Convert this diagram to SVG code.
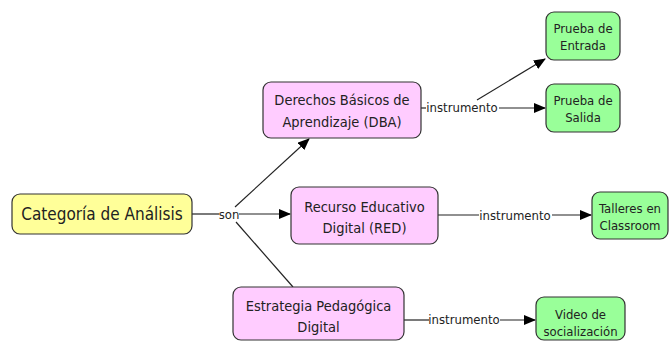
<svg xmlns="http://www.w3.org/2000/svg" width="671" height="341" viewBox="0 0 671 341">
<style>
.n rect{stroke:#333;stroke-width:1.2}
.y rect{fill:#ffff99}
.p rect{fill:#ffccff}
.g rect{fill:#99ff99}
text{font-family:"DejaVu Sans Condensed","DejaVu Sans","Liberation Sans",sans-serif;fill:#222;text-anchor:middle}
.t{font-size:14.5px}
.s{font-size:13px}
.l{font-size:13px}
.c line,.c polyline{stroke:#222;stroke-width:1.2;fill:none}
.c .a{marker-end:url(#ah)}
</style>
<defs>
<marker id="ah" markerWidth="12" markerHeight="10" refX="11" refY="5" orient="auto" markerUnits="userSpaceOnUse">
<path d="M0,0 L12,5 L0,10 Z" fill="#000"/>
</marker>
</defs>
<rect width="671" height="341" fill="#fff"/>
<g id="connectors" class="c">
<line x1="192" y1="214" x2="219" y2="214"/>
<line class="a" x1="239" y1="214" x2="290" y2="214"/>
<line class="a" x1="235" y1="207" x2="309" y2="139"/>
<line x1="236" y1="222" x2="293" y2="287"/>
<line x1="421" y1="108" x2="426" y2="108"/>
<line class="a" x1="499" y1="108" x2="545" y2="108"/>
<line class="a" x1="477" y1="100" x2="545" y2="59"/>
<line x1="438" y1="215" x2="479" y2="215"/>
<line class="a" x1="552" y1="215" x2="591" y2="215"/>
<line x1="404" y1="320" x2="429" y2="320"/>
<line class="a" x1="500" y1="320" x2="535" y2="320"/>
<text class="l" x="229" y="218.5">son</text>
<text class="l" x="462" y="111.5">instrumento</text>
<text class="l" x="515" y="219.5">instrumento</text>
<text class="l" x="464" y="324">instrumento</text>
</g>
<g id="categoria" class="n y"><rect x="12" y="194" width="180" height="40" rx="8"/><text x="102" y="220" style="font-size:17px">Categoría de Análisis</text></g>
<g id="dba" class="n p"><rect x="263" y="82" width="158" height="56" rx="8"/><text class="t" x="342" y="105">Derechos Básicos de</text><text class="t" x="342" y="127">Aprendizaje (DBA)</text></g>
<g id="red" class="n p"><rect x="291" y="187" width="147" height="57" rx="8"/><text class="t" x="364.5" y="211.5">Recurso Educativo</text><text class="t" x="364.5" y="233">Digital (RED)</text></g>
<g id="estrategia" class="n p"><rect x="233" y="287" width="171" height="53" rx="8"/><text class="t" x="318.5" y="310.5">Estrategia Pedagógica</text><text class="t" x="318.5" y="331.5">Digital</text></g>
<g id="entrada" class="n g"><rect x="546" y="12" width="74" height="48" rx="8"/><text class="s" x="583" y="33">Prueba de</text><text class="s" x="583" y="50">Entrada</text></g>
<g id="salida" class="n g"><rect x="546" y="84" width="74" height="48" rx="8"/><text class="s" x="583" y="104.5">Prueba de</text><text class="s" x="583" y="122">Salida</text></g>
<g id="talleres" class="n g"><rect x="592" y="192" width="76" height="47" rx="8"/><text class="s" x="630" y="213">Talleres en</text><text class="s" x="630" y="230">Classroom</text></g>
<g id="video" class="n g"><rect x="536" y="297" width="89" height="43" rx="8"/><text class="s" x="580.5" y="318.5">Video de</text><text class="s" x="580.5" y="336">socialización</text></g>
</svg>
